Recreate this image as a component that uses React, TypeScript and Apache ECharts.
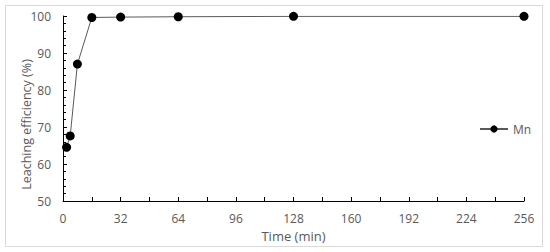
import React, { useEffect, useRef } from "react";
import * as echarts from "echarts";

const times = [2, 4, 8, 16, 32, 64, 128, 256];
const mnValues = [64.5, 67.6, 87.0, 99.6, 99.7, 99.8, 99.9, 99.9];
const xTicks = [0, 32, 64, 96, 128, 160, 192, 224, 256];
const yTicks = [50, 60, 70, 80, 90, 100];

export default function App() {
  const ref = useRef<HTMLDivElement>(null);
  useEffect(() => {
    if (!ref.current) return;
    const chart = echarts.init(ref.current, undefined, { renderer: "svg" });
    const font = "Open Sans";
    chart.setOption({
      animation: false,
      textStyle: { fontFamily: font },
      graphic: [
        {
          type: "rect",
          shape: { x: 5.5, y: 5.5, width: 537, height: 241 },
          style: { fill: "#fff", stroke: "#d9d9d9", lineWidth: 1 },
          z: -10,
        },
      ],
      grid: { left: 63, right: 26, top: 16, bottom: 51 },
      legend: {
        data: ["Mn"],
        left: 474,
        top: 118,
        itemWidth: 28,
        itemHeight: 9,
        itemGap: 4,
        textStyle: { color: "#595959", fontSize: 12, fontFamily: font },
      },
      xAxis: {
        type: "value",
        min: xTicks[0],
        max: xTicks[xTicks.length - 1],
        interval: 32,
        name: "Time (min)",
        nameLocation: "middle",
        nameGap: 28,
        nameMoveOverlap: false,
        nameTextStyle: { color: "#595959", fontSize: 13, fontFamily: font },
        axisLine: { lineStyle: { color: "#000", width: 1 } },
        axisTick: { show: true, inside: true, length: 4, lineStyle: { color: "#000" } },
        minorTick: { show: true, splitNumber: 2, length: 4, lineStyle: { color: "#000" } },
        axisLabel: { color: "#595959", fontSize: 12, margin: 11, fontFamily: font },
        splitLine: { show: false },
      },
      yAxis: {
        type: "value",
        min: yTicks[0],
        max: yTicks[yTicks.length - 1],
        interval: 10,
        name: "Leaching efficiency (%)",
        nameLocation: "middle",
        nameGap: 30,
        nameMoveOverlap: false,
        nameTextStyle: { color: "#595959", fontSize: 12.5, fontFamily: font, padding: [0, 32, 0, 0] },
        axisLine: { show: true, lineStyle: { color: "#000", width: 1 } },
        axisTick: { show: true, inside: true, length: 4, lineStyle: { color: "#000" } },
        minorTick: { show: true, splitNumber: 5, length: 3, lineStyle: { color: "#000" } },
        axisLabel: { color: "#595959", fontSize: 12, margin: 12, fontFamily: font },
        splitLine: { show: false },
      },
      series: [
        {
          name: "Mn",
          type: "line",
          data: times.map((t, i) => [t, mnValues[i]]),
          symbol: "circle",
          symbolSize: 9,
          itemStyle: { color: "#000" },
          lineStyle: { color: "#595959", width: 1 },
        },
      ],
    });
    return () => chart.dispose();
  }, []);
  return <div ref={ref} style={{ width: 550, height: 252, position: "absolute", left: 0, top: 0 }} />;
}
